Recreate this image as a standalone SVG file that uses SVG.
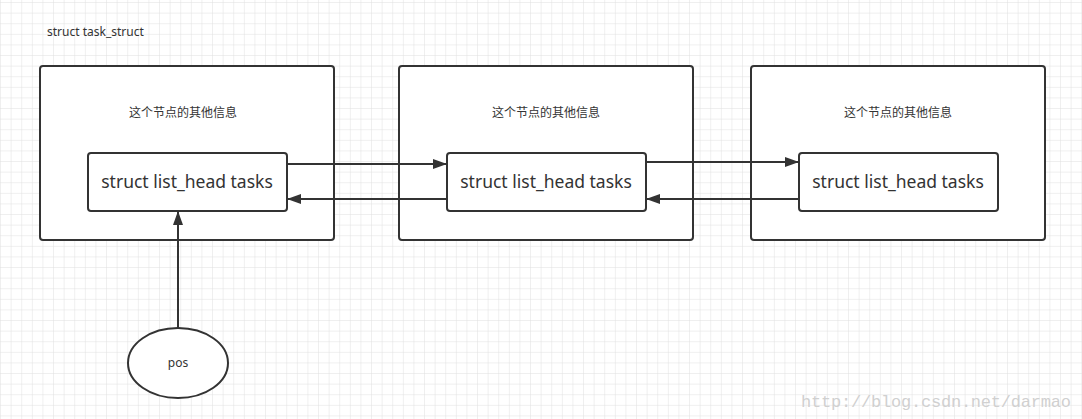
<svg xmlns="http://www.w3.org/2000/svg" width="1082" height="419" viewBox="0 0 1082 419">
<defs>
<pattern id="g" width="10.6" height="10.6" patternUnits="userSpaceOnUse" x="1" y="3"><path d="M10.6 0V10.6H0" fill="none" stroke="#e0e0e0" stroke-width="1"/></pattern>
<marker id="a" markerWidth="14" markerHeight="10" refX="13" refY="5" orient="auto" markerUnits="userSpaceOnUse"><path d="M0 0L14 5L0 10Z" fill="#333"/></marker>
<style>
.o{fill:#fff;stroke:#333;stroke-width:2}
.t{font-family:"Noto Sans","Noto Sans CJK SC",sans-serif;fill:#333;text-anchor:middle}
.c{stroke:#333;stroke-width:2;fill:none;marker-end:url(#a)}
</style>
</defs>
<rect width="1082" height="419" fill="#fff"/>
<rect width="1082" height="419" fill="url(#g)"/>
<text x="47" y="36" font-size="12" style="font-family:'Noto Sans',sans-serif;fill:#333">struct task_struct</text>
<g id="n1"><rect class="o" x="40" y="66" width="294" height="174" rx="3"/><text class="t" x="183" y="117" font-size="12">这个节点的其他信息</text></g>
<g id="n2"><rect class="o" x="399" y="66" width="294" height="174" rx="3"/><text class="t" x="546" y="117" font-size="12">这个节点的其他信息</text></g>
<g id="n3"><rect class="o" x="751" y="66" width="294" height="174" rx="3"/><text class="t" x="898" y="117" font-size="12">这个节点的其他信息</text></g>
<g id="l1"><rect class="o" x="88" y="153" width="199" height="58" rx="3"/><text class="t" x="187" y="188" font-size="17.5">struct list_head tasks</text></g>
<g id="l2"><rect class="o" x="447" y="153" width="199" height="58" rx="3"/><text class="t" x="546" y="188" font-size="17.5">struct list_head tasks</text></g>
<g id="l3"><rect class="o" x="799" y="153" width="199" height="58" rx="3"/><text class="t" x="898" y="188" font-size="17.5">struct list_head tasks</text></g>
<g id="pos"><ellipse class="o" cx="178" cy="363" rx="50" ry="35"/><text class="t" x="178" y="367" font-size="12">pos</text></g>
<g id="connectors">
<path class="c" d="M287 164H446"/>
<path class="c" d="M447 199H288"/>
<path class="c" d="M646 162H798"/>
<path class="c" d="M799 199H647"/>
<path class="c" d="M178 328V212"/>
</g>
<text x="1071" y="407" font-size="17" textLength="270" text-anchor="end" style="font-family:'Liberation Mono',monospace;fill:#d0d0d0">http://blog.csdn.net/darmao</text>
</svg>
